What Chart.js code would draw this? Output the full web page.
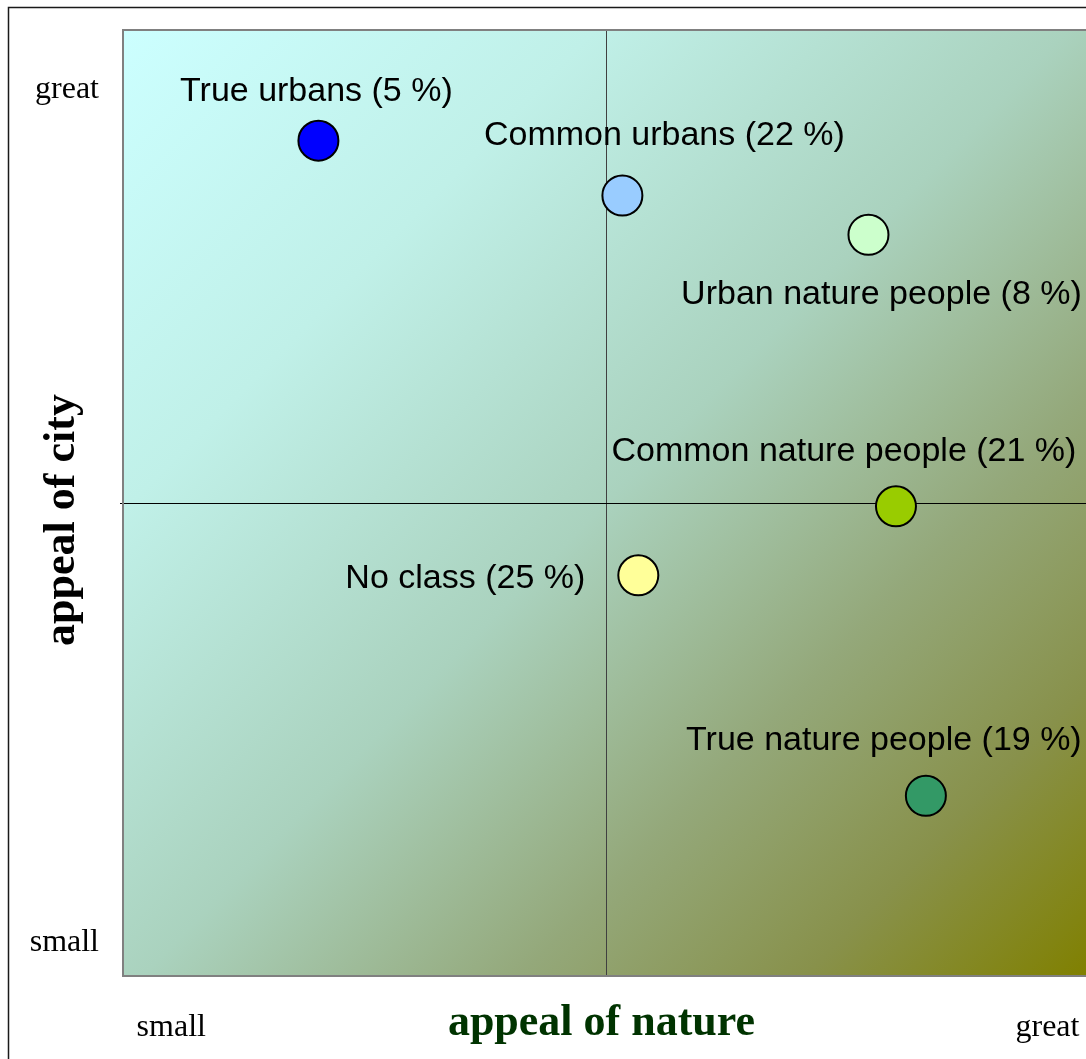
<!DOCTYPE html>
<html>
<head>
<meta charset="utf-8">
<script src="https://cdn.jsdelivr.net/npm/chart.js@4/dist/chart.umd.min.js"></script>
<style>
  html, body { margin: 0; padding: 0; overflow: hidden; background: #ffffff; }
  #wrap { position: absolute; left: 0; top: 0; width: 1110px; height: 1080px; }
</style>
</head>
<body>
<div id="wrap"><canvas id="c" width="1110" height="1080"></canvas></div>
<script>
// ---- data ----
const categories = ['True urbans', 'Common urbans', 'Urban nature people', 'Common nature people', 'No class', 'True nature people'];
const shares = [5, 22, 8, 21, 25, 19];
const natureAppeal = [-0.595, 0.035, 0.545, 0.602, 0.068, 0.664];
const cityAppeal = [0.766, 0.650, 0.567, -0.007, -0.153, -0.619];
const tickLabels = ['small', 'great'];
const xTickValues = [-0.9, 0.916];
const yTickValues = [-0.93, 0.873];
const xTitle = 'appeal of nature';
const yTitle = 'appeal of city';

// ---- styles ----
const pointColors = ['#0000ff', '#99ccff', '#ccffcc', '#99cc00', '#ffff99', '#339966'];
const labelOffsets = [
  { dx: -2, dy: -49, align: 'center' },
  { dx: 42, dy: -60, align: 'center' },
  { dx: 13, dy: 60, align: 'center' },
  { dx: -52, dy: -55, align: 'center' },
  { dx: -53, dy: 3, align: 'right' },
  { dx: -42, dy: -55, align: 'center' }
];

const bgPlugin = {
  id: 'bg',
  beforeDraw(chart) {
    const { ctx, chartArea: a } = chart;
    ctx.save();
    // outer frame
    ctx.strokeStyle = '#1a1a1a';
    ctx.lineWidth = 1.5;
    ctx.strokeRect(8.5, 7.5, 1095, 1065);
    // gradient plot background
    const g = ctx.createLinearGradient(a.left, a.top, a.right, a.bottom);
    g.addColorStop(0.0, 'rgb(204,255,255)');
    g.addColorStop(0.25, 'rgb(192,240,232)');
    g.addColorStop(0.5, 'rgb(170,210,190)');
    g.addColorStop(0.7, 'rgb(148,168,122)');
    g.addColorStop(0.85, 'rgb(136,145,75)');
    g.addColorStop(1.0, 'rgb(128,128,0)');
    ctx.fillStyle = g;
    ctx.fillRect(a.left, a.top, a.right - a.left, a.bottom - a.top);
    // crosshair through 0,0
    const xs = chart.scales.x, ys = chart.scales.y;
    const x0 = Math.round(xs.getPixelForValue(0)) + 0.5;
    const y0 = Math.round(ys.getPixelForValue(0)) + 0.5;
    ctx.lineWidth = 1;
    ctx.strokeStyle = '#404040';
    ctx.beginPath();
    ctx.moveTo(x0, a.top); ctx.lineTo(x0, a.bottom);
    ctx.stroke();
    ctx.strokeStyle = '#000000';
    ctx.beginPath();
    ctx.moveTo(a.left - 3, y0); ctx.lineTo(a.right, y0);
    ctx.stroke();
    // plot border
    ctx.strokeStyle = '#808080';
    ctx.lineWidth = 2;
    ctx.strokeRect(a.left, a.top, a.right - a.left, a.bottom - a.top);
    ctx.restore();
  },
  afterDraw(chart) {
    const { ctx, chartArea: a } = chart;
    const xs = chart.scales.x, ys = chart.scales.y;
    ctx.save();
    // point labels
    ctx.font = '34px "Liberation Sans", Arial, sans-serif';
    ctx.fillStyle = '#000000';
    ctx.textBaseline = 'middle';
    categories.forEach((name, i) => {
      const px = xs.getPixelForValue(natureAppeal[i]);
      const py = ys.getPixelForValue(cityAppeal[i]);
      const o = labelOffsets[i];
      ctx.textAlign = o.align;
      ctx.fillText(name + ' (' + shares[i] + ' %)', px + o.dx, py + o.dy);
    });
    // axis titles
    ctx.font = 'bold 44px "Liberation Serif", "Times New Roman", serif';
    ctx.textBaseline = 'alphabetic';
    ctx.textAlign = 'center';
    ctx.fillStyle = '#003300';
    ctx.fillText(xTitle, (a.left + a.right) / 2 - 4, 1035);
    ctx.fillStyle = '#000000';
    ctx.translate(74, (a.top + a.bottom) / 2 + 17);
    ctx.rotate(-Math.PI / 2);
    ctx.fillText(yTitle, 0, 0);
    ctx.restore();
  }
};

function noPad(s) {
  s.paddingTop = 0; s.paddingBottom = 0; s.paddingLeft = 0; s.paddingRight = 0;
}

new Chart(document.getElementById('c'), {
  type: 'scatter',
  data: {
    datasets: [{
      data: natureAppeal.map((x, i) => ({ x: x, y: cityAppeal[i] })),
      pointRadius: 20,
      pointHoverRadius: 20,
      pointBackgroundColor: pointColors,
      pointBorderColor: '#000000',
      pointBorderWidth: 2
    }]
  },
  options: {
    responsive: false,
    animation: false,
    events: [],
    layout: { padding: { left: 0, top: 30, right: 19, bottom: 0 } },
    plugins: { legend: { display: false }, tooltip: { enabled: false } },
    scales: {
      x: {
        type: 'linear', min: -1, max: 1,
        afterBuildTicks: (s) => { s.ticks = xTickValues.map(v => ({ value: v })); },
        afterFit: (s) => { s.height = 1080 - 976; noPad(s); },
        grid: { display: false, drawTicks: false },
        border: { display: false },
        ticks: {
          autoSkip: false, maxRotation: 0, padding: 32,
          color: '#000000',
          font: { family: '"Liberation Serif", "Times New Roman", serif', size: 32 },
          callback: (v, i) => tickLabels[i]
        }
      },
      y: {
        type: 'linear', min: -1, max: 1,
        afterBuildTicks: (s) => { s.ticks = yTickValues.map(v => ({ value: v })); },
        afterFit: (s) => { s.width = 123; noPad(s); },
        grid: { display: false, drawTicks: false },
        border: { display: false },
        ticks: {
          autoSkip: false, padding: 24,
          color: '#000000',
          font: { family: '"Liberation Serif", "Times New Roman", serif', size: 32 },
          callback: (v, i) => tickLabels[i]
        }
      }
    }
  },
  plugins: [bgPlugin]
});
</script>
</body>
</html>
